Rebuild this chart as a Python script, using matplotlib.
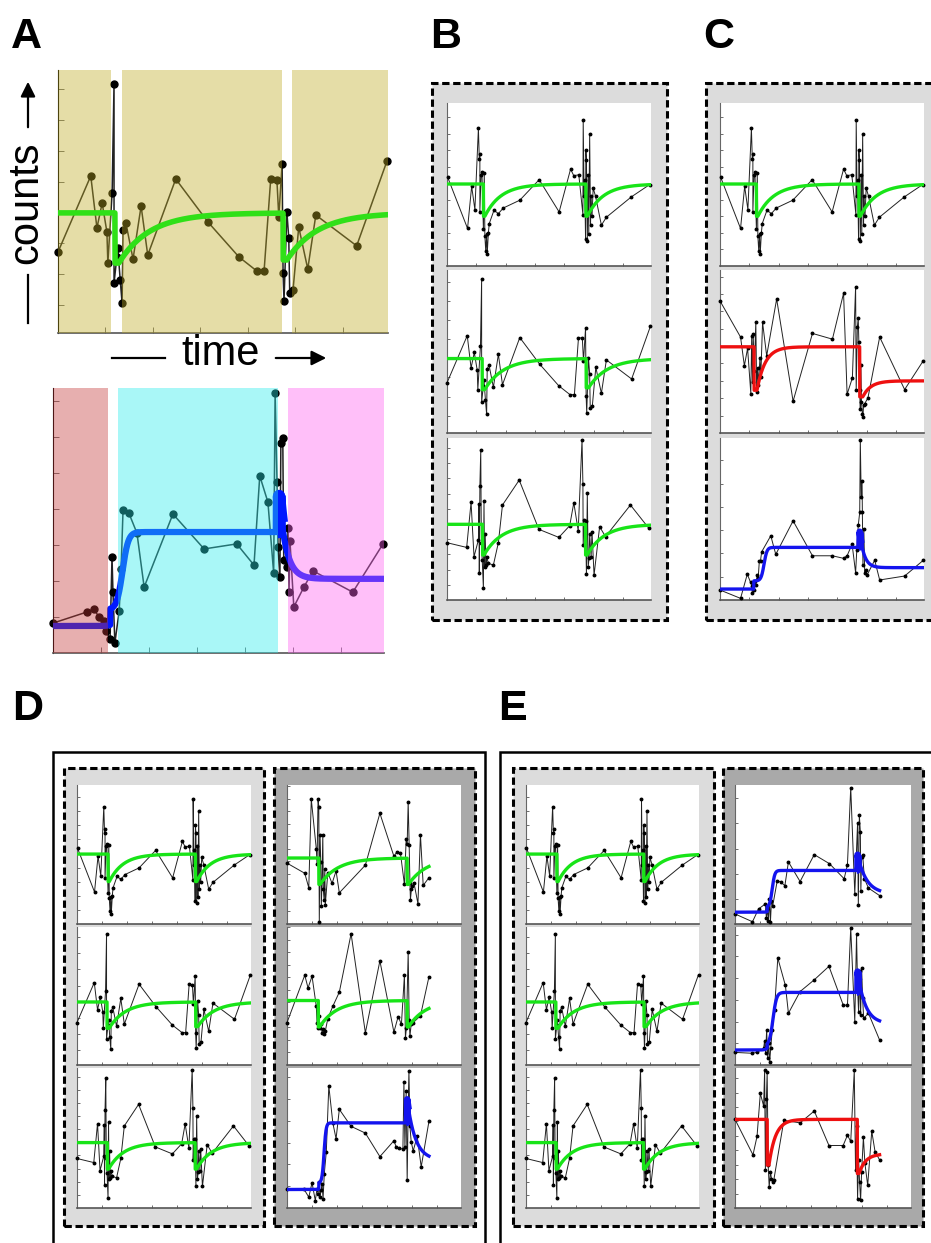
import numpy as np
import matplotlib
matplotlib.use('Agg')
import matplotlib.pyplot as plt
from matplotlib.patches import Rectangle, FancyArrowPatch
from matplotlib.lines import Line2D

plt.rcParams['font.family'] = ['Liberation Sans', 'DejaVu Sans']

# ---------------- data (time, counts) ----------------
trace_top = [(0.02,5.38),(0.70,2.27),(0.84,4.82),(0.95,3.41),(1.07,8.33),(1.10,6.47),(1.12,6.77),
             (1.12,3.27),(1.16,5.52),(1.19,5.66),(1.24,2.21),(1.27,5.62),(1.29,1.81),(1.32,0.90),
             (1.35,1.91),(1.37,0.74),(1.41,2.01),(1.44,2.57),(1.60,3.37),(1.75,3.17),(1.92,3.51),
             (2.48,3.98),(3.14,5.22),(3.82,3.27),(4.21,5.86),(4.32,5.46),(4.49,5.52),(4.63,3.11),
             (4.64,8.84),(4.67,4.22),(4.69,5.22),(4.72,1.61),(4.73,7.03),(4.75,6.43),(4.78,1.51),
             (4.81,5.52),(4.83,1.91),(4.86,7.99),(4.89,2.51),(4.91,4.22),(4.94,3.01),(4.98,4.72),
             (5.06,4.22),(5.26,2.47),(5.43,2.95),(6.28,4.18),(6.90,4.92)]
trace_mid = [(0.0,2.72),(0.69,5.19),(0.82,3.50),(0.93,4.31),(1.03,3.37),(1.05,2.36),(1.14,4.64),
             (1.18,8.18),(1.18,1.71),(1.24,2.56),(1.26,2.85),(1.31,1.81),(1.35,1.06),(1.37,3.44),
             (1.43,3.66),(1.58,2.49),(1.75,4.21),(1.89,2.62),(2.48,5.09),(3.16,3.69),(3.81,2.56),
             (4.19,2.10),(4.34,2.10),(4.48,5.09),(4.61,5.06),(4.65,3.86),(4.72,5.58),(4.74,2.04),
             (4.76,1.13),(4.82,4.02),(4.86,3.18),(4.88,1.39),(4.95,1.49),(5.07,3.53),(5.26,2.17),
             (5.43,3.92),(6.29,2.92),(6.93,5.68)]
trace_bot = [(0.0,3.77),(0.67,3.46),(0.82,6.43),(0.92,2.85),(1.07,3.95),(1.09,6.29),(1.10,1.75),
             (1.12,7.50),(1.15,9.87),(1.17,3.77),(1.20,2.63),(1.24,0.77),(1.26,6.54),(1.28,2.19),
             (1.30,4.34),(1.33,2.30),(1.35,2.85),(1.41,2.41),(1.58,2.30),(1.75,3.77),(1.89,6.25),
             (2.46,7.89),(3.13,4.65),(3.81,4.12),(4.18,4.89),(4.32,6.40),(4.47,4.56),(4.60,10.53),
             (4.63,7.63),(4.64,3.62),(4.67,5.26),(4.72,5.22),(4.75,1.71),(4.78,7.02),(4.81,2.19),
             (4.84,2.74),(4.86,4.34),(4.91,2.85),(4.94,4.50),(5.01,1.64),(5.20,4.82),(5.40,4.17),
             (6.25,6.25),(6.88,4.71)]
trace_red_c = [(0.0,7.60),(0.70,5.52),(0.83,3.87),(0.94,4.87),(1.05,2.27),(1.08,5.60),(1.11,2.94),
               (1.13,5.67),(1.17,3.56),(1.22,6.40),(1.25,2.37),(1.28,3.75),(1.31,2.79),(1.36,4.29),
               (1.39,3.23),(1.45,6.37),(1.59,4.44),(1.93,7.71),(2.49,1.83),(3.15,5.73),(3.83,5.40),
               (4.21,8.04),(4.33,2.23),(4.51,3.17),(4.62,8.42),(4.64,2.46),(4.68,6.12),(4.71,6.63),
               (4.73,5.25),(4.76,2.46),(4.78,1.37),(4.80,3.90),(4.82,1.79),(4.85,1.12),(4.87,0.92),
               (4.89,1.60),(4.93,1.69),(5.04,2.02),(5.44,5.52),(6.29,2.50),(6.93,4.17)]
trace_blue_c = [(0.0,0.43),(0.70,0.07),(0.93,1.11),(1.04,0.76),(1.08,0.61),(1.10,0.31),(1.13,0.71),
                (1.17,0.43),(1.19,0.81),(1.22,0.64),(1.27,1.07),(1.30,0.93),(1.34,1.67),(1.38,1.69),
                (1.42,2.07),(1.73,2.76),(1.90,1.96),(2.49,3.40),(3.15,1.90),(3.83,1.90),(4.21,1.79),
                (4.33,1.90),(4.50,2.40),(4.62,1.17),(4.66,2.14),(4.71,3.21),(4.76,3.76),(4.78,6.89),
                (4.81,4.43),(4.84,5.10),(4.85,3.79),(4.87,1.50),(4.90,3.07),(4.93,1.14),(4.96,1.29),
                (5.01,1.07),(5.27,1.71),(5.44,0.86),(6.29,1.03),(6.93,1.71)]
trace_a_bottom = [(0.0,0.83),(0.71,1.14),(0.85,1.22),(0.96,1.00),(1.06,0.89),(1.10,0.61),(1.19,0.39),
                  (1.23,2.67),(1.25,1.69),(1.29,0.28),(1.38,1.17),(1.42,2.33),(1.46,3.97),(1.58,3.89),
                  (1.75,3.33),(1.90,1.83),(2.50,3.86),(3.15,2.89),(3.83,3.03),(4.19,2.44),(4.31,4.92),
                  (4.48,4.19),(4.60,2.22),(4.63,7.22),(4.67,4.75),(4.69,2.94),(4.73,2.11),(4.75,5.83),
                  (4.79,5.97),(4.81,2.58),(4.88,2.39),(4.90,3.47),(4.92,1.69),(4.94,3.11),(5.02,1.28),
                  (5.23,1.83),(5.42,2.28),(6.25,1.69),(6.88,3.03)]
trace_d_top = [(0.0,4.86),(0.71,4.05),(0.87,2.89),(0.97,9.97),(1.17,6.00),(1.20,4.78),(1.24,9.97),
               (1.27,9.38),(1.29,0.19),(1.32,7.08),(1.35,4.92),(1.37,1.41),(1.40,3.43),(1.43,7.14),
               (1.45,2.76),(1.48,1.95),(1.51,4.38),(1.53,1.54),(1.63,4.11),(1.80,3.24),(1.96,4.24),
               (2.09,2.49),(3.13,4.70),(3.71,8.84),(4.27,5.41),(4.40,5.78),(4.53,5.68),(4.69,3.16),
               (4.76,6.81),(4.80,6.41),(4.84,9.73),(4.88,6.27),(4.91,3.30),(4.93,1.95),(4.97,2.76),
               (5.01,3.03),(5.07,3.30),(5.23,1.62),(5.33,7.14),(5.44,3.08),(5.67,3.70)]
trace_d_mid = [(0.0,3.38),(0.71,7.16),(0.84,6.14),(1.00,7.08),(1.17,4.68),(1.20,3.38),(1.24,2.97),
               (1.28,3.92),(1.32,2.92),(1.36,3.24),(1.40,2.57),(1.44,2.89),(1.48,2.49),(1.53,2.70),
               (1.63,3.70),(1.83,4.68),(2.09,5.81),(2.56,10.46),(3.13,2.57),(3.71,8.30),(4.27,2.62),
               (4.44,3.86),(4.57,3.24),(4.69,7.16),(4.73,2.16),(4.77,2.97),(4.84,9.00),(4.88,3.59),
               (4.91,2.30),(4.96,3.24),(5.04,3.38),(5.33,3.92),(5.67,7.03)]
trace_d_bot = [(0.0,0.85),(0.67,0.88),(0.87,0.50),(1.00,1.16),(1.13,0.34),(1.20,0.88),(1.24,0.65),
               (1.28,1.19),(1.32,0.50),(1.36,0.81),(1.40,1.12),(1.44,0.42),(1.49,1.58),(1.57,2.59),
               (1.67,5.61),(1.83,3.91),(1.96,3.18),(2.09,4.53),(2.56,3.75),(3.13,3.44),(3.71,2.36),
               (4.27,3.09),(4.37,2.78),(4.49,2.74),(4.63,2.71),(4.67,5.77),(4.71,2.82),(4.76,5.38),
               (4.80,1.27),(4.84,4.53),(4.87,6.31),(4.91,3.75),(4.96,3.05),(5.04,2.62),(5.20,3.29),
               (5.36,1.89),(5.67,3.98)]
trace_e_top = [(0.0,0.40),(0.69,0.09),(0.93,0.60),(1.20,0.80),(1.24,0.23),(1.28,0.60),(1.32,0.13),
               (1.36,1.00),(1.40,0.09),(1.44,0.93),(1.49,0.73),(1.67,1.73),(1.80,1.67),(1.97,1.53),
               (2.11,2.47),(2.57,1.69),(3.13,2.76),(3.73,2.40),(4.31,1.80),(4.44,2.36),(4.57,5.43),
               (4.73,1.20),(4.77,2.23),(4.84,4.00),(4.87,0.76),(4.91,4.33),(4.95,3.67),(4.97,1.33),
               (5.00,2.67),(5.04,2.76),(5.11,1.80),(5.27,1.43),(5.71,1.13)]
trace_e_mid = [(0.0,0.58),(0.67,0.54),(0.87,0.58),(1.13,0.77),(1.17,1.11),(1.21,0.54),(1.25,1.62),
               (1.29,0.31),(1.33,1.00),(1.37,0.15),(1.41,0.77),(1.47,1.62),(1.56,2.54),(1.69,4.92),
               (1.99,3.66),(2.11,2.38),(2.57,3.38),(3.13,3.92),(3.71,4.54),(4.27,2.77),(4.44,2.74),
               (4.57,6.31),(4.73,2.00),(4.80,6.03),(4.84,3.54),(4.88,2.46),(4.92,4.31),(4.96,2.28),
               (5.00,4.46),(5.04,3.08),(5.08,2.15),(5.27,2.38),(5.71,1.15)]
trace_e_bot = [(0.0,6.14),(0.71,3.68),(0.87,4.96),(1.00,7.94),(1.13,7.07),(1.17,9.53),(1.20,2.62),
               (1.24,7.54),(1.27,9.41),(1.31,2.97),(1.35,1.45),(1.40,2.51),(1.44,2.04),(1.49,1.80),
               (1.53,1.92),(1.93,6.07),(2.57,5.90),(3.13,6.72),(3.71,4.33),(4.27,4.33),(4.44,5.04),
               (4.57,4.61),(4.71,9.53),(4.76,2.62),(4.80,5.67),(4.84,0.63),(4.88,3.33),(4.92,1.80),
               (4.96,0.52),(5.00,2.51),(5.07,4.89),(5.13,3.09),(5.24,1.57),(5.40,5.32),(5.53,3.91),
               (5.71,3.33)]

# fitted model parameters
# dip: base, t1, low1, t2, low2, base2, tau, delay
fit_top = [4.96, 1.24, 3.01, 4.73, 3.01, 4.96, 0.55, 0.05]
fit_mid = [3.99, 1.20, 2.36, 4.74, 2.46, 3.99, 0.65, 0.08]
fit_bot = [4.98, 1.21, 2.96, 4.72, 2.96, 4.98, 0.60, 0.05]
fit_red_c = [4.96, 1.16, 2.46, 4.76, 2.08, 3.00, 0.28, 0.10]
fit_d_top = [5.27, 1.27, 3.16, 4.80, 3.16, 5.27, 0.72, 0.05]
fit_d_mid = [5.14, 1.25, 3.03, 4.80, 3.03, 5.14, 0.68, 0.05]
fit_e_bot = [6.14, 1.27, 2.97, 4.83, 2.39, 3.75, 0.26, 0.07]
# rise: b0, t1, bump, tm, s, plateau, t2, peak, b2, tau2
fit_blue_c = [0.47, 1.15, 0.35, 1.50, 0.05, 2.26, 4.76, 2.93, 1.39, 0.15]
fit_a_bottom = [0.75, 1.19, 0.45, 1.45, 0.06, 3.36, 4.71, 4.39, 2.06, 0.15]
fit_d_bot = [0.85, 1.27, 0.30, 1.48, 0.04, 3.91, 4.80, 4.99, 2.20, 0.32]
fit_e_top = [0.47, 1.27, 0.20, 1.47, 0.05, 2.13, 4.84, 2.76, 1.20, 0.35]
fit_e_mid = [0.69, 1.27, 0.20, 1.50, 0.07, 3.34, 4.84, 4.31, 1.90, 0.30]

# shaded epochs in panel A
a_top_epochs = [(0.0, 1.12), (1.35, 4.71), (4.92, 6.95)]
a_bot_epochs = [(0.0, 1.14), (1.36, 4.69), (4.89, 6.90)]

# ---------------- helpers ----------------
W, H = 931, 1243
fig = plt.figure(figsize=(W / 100, H / 100), dpi=100)


def frac_rect(x0, y0, x1, y1):
    return [x0 / W, 1 - y1 / H, (x1 - x0) / W, (y1 - y0) / H]


def dip_curve(t, p):
    base, t1, low1, t2, low2, base2, tau, delay = p
    y = np.full_like(t, base)
    m1 = (t >= t1) & (t < t2)
    y[m1] = base - (base - low1) * np.exp(-np.clip(t[m1] - t1 - delay, 0, None) / tau)
    m2 = t >= t2
    y[m2] = base2 - (base2 - low2) * np.exp(-np.clip(t[m2] - t2 - delay, 0, None) / tau)
    return y


def rise_curve(t, p):
    b0, t1, bump, tm, s, plateau, t2, peak, b2, tau2 = p
    y = b0 + bump * (t >= t1) + (plateau - b0 - bump) / (1 + np.exp(-(t - tm) / s))
    m = t >= t2
    y[m] = b2 + (peak - b2) * np.exp(-(t[m] - t2) / tau2)
    return y


def style_axes(ax, ylim, xmax=6.95, tick_len=2.5, spine_lw=1.0):
    ax.set_xlim(0, xmax)
    ax.set_ylim(*ylim)
    for s in ['top', 'right']:
        ax.spines[s].set_visible(False)
    ax.spines['left'].set_color('#666666')
    ax.spines['left'].set_linewidth(spine_lw * 0.8)
    ax.spines['bottom'].set_color('#555555')
    ax.spines['bottom'].set_linewidth(spine_lw * 1.2)
    ax.set_xticks(range(1, 7))
    ax.set_yticks(np.arange(1, int(ylim[1]) + 1))
    ax.tick_params(direction='in', length=tick_len, width=0.6, colors='#555555',
                   labelbottom=False, labelleft=False)


def draw_trace(ax, pts, kind, params, color, t_end, lw_data, ms, lw_fit, fit_z=4):
    t = [p[0] for p in pts]
    y = [p[1] for p in pts]
    ax.plot(t, y, '-', color='#222222', lw=lw_data, marker='o', ms=ms,
            mfc='black', mec='black', zorder=3, clip_on=False)
    tt = np.linspace(0, t_end, 3000)
    yy = dip_curve(tt, params) if kind == 'dip' else rise_curve(tt, params)
    ax.plot(tt, yy, color=color, lw=lw_fit, zorder=fit_z, solid_joinstyle='round')
    if kind == 'rise':
        # the dense burst of samples at the second event makes the fit look thicker there
        t2 = params[6]
        m = (tt >= t2 - 0.03) & (tt <= t2 + 0.06)
        ax.plot(tt[m], yy[m], color=color, lw=lw_fit * 2.0, zorder=fit_z,
                solid_capstyle='butt')
        ax.plot([t2, t2], [params[5], params[7]], color=color, lw=lw_fit * 2.0,
                zorder=fit_z, solid_capstyle='butt')


def small_panel(px, pts, kind, params, color, ylim, t_end=6.95):
    ax = fig.add_axes(frac_rect(*px))
    ax.set_facecolor('white')
    draw_trace(ax, pts, kind, params, color, t_end, 0.7, 1.8, 2.4)
    style_axes(ax, ylim)
    return ax


def box(x0, y0, x1, y1, fc, ls, lw, z):
    fig.add_artist(Rectangle((x0 / W, 1 - y1 / H), (x1 - x0) / W, (y1 - y0) / H,
                             transform=fig.transFigure, facecolor=fc, edgecolor='black',
                             linestyle=ls, lw=lw, zorder=z, clip_on=False))


GREEN, RED, BLUE = '#18e418', '#ee1010', '#1414ee'
DASH = (0, (2.4, 1.2))
LIGHT, DARK = '#dcdcdc', '#a9a9a9'

# ---------------- panel A ----------------
axA1 = fig.add_axes(frac_rect(58, 70, 388, 333))
draw_trace(axA1, trace_mid, 'dip', fit_mid, '#30e018', 6.95, 1.1, 5, 4.0, fit_z=6)
style_axes(axA1, (0.09, 8.63), tick_len=4)
axA1.spines['left'].set_color('black')
for a, b in a_top_epochs:
    axA1.axvspan(a, b, color='#c0ac25', alpha=0.4, lw=0, zorder=5)

axA2 = fig.add_axes(frac_rect(53, 388, 384, 653))
draw_trace(axA2, trace_a_bottom, 'rise', fit_a_bottom, '#0018ff', 6.9, 1.1, 5, 4.5)
style_axes(axA2, (0, 7.36), xmax=6.9, tick_len=4)
axA2.spines['left'].set_color('black')
for (a, b), c in zip(a_bot_epochs, ['#c53939', '#2aeded', '#ff61f2']):
    axA2.axvspan(a, b, color=c, alpha=0.4, lw=0, zorder=5)

fig.text(221 / W, 1 - 354 / H, 'time', fontsize=30, ha='center', va='center')
fig.add_artist(Line2D([112 / W, 165 / W], [1 - 358 / H] * 2, transform=fig.transFigure,
                      color='black', lw=1.6))
fig.add_artist(FancyArrowPatch((273 / W, 1 - 358 / H), (329 / W, 1 - 358 / H),
                               transform=fig.transFigure, arrowstyle='-|>',
                               mutation_scale=22, lw=1.6, color='black'))
fig.text(26 / W, 1 - 203 / H, 'counts', fontsize=30, ha='center', va='center', rotation=90)
fig.add_artist(Line2D([28 / W] * 2, [1 - 323 / H, 1 - 275 / H], transform=fig.transFigure,
                      color='black', lw=1.6))
fig.add_artist(FancyArrowPatch((28 / W, 1 - 130 / H), (28 / W, 1 - 79 / H),
                               transform=fig.transFigure, arrowstyle='-|>',
                               mutation_scale=22, lw=1.6, color='black'))

# ---------------- panel labels ----------------
for lab, x, y in [('A', 11, 48), ('B', 430, 48), ('C', 703, 48), ('D', 12, 720), ('E', 498, 720)]:
    fig.text(x / W, 1 - y / H, lab, fontsize=31, fontweight='bold', ha='left', va='baseline')

# ---------------- boxes ----------------
box(432, 83, 667, 620, LIGHT, DASH, 2.2, -2)
box(706, 83, 941, 620, LIGHT, DASH, 2.2, -2)
box(53, 752, 485, 1270, 'white', '-', 1.8, -3)
box(500, 752, 970, 1270, 'white', '-', 1.8, -3)
box(64, 768, 264, 1226, LIGHT, DASH, 2.2, -2)
box(274, 768, 475, 1226, DARK, DASH, 2.2, -2)
box(513, 768, 714, 1226, LIGHT, DASH, 2.2, -2)
box(723, 768, 923, 1226, DARK, DASH, 2.2, -2)

# ---------------- panels B and C ----------------
rows_bc = [(103, 266), (270, 433), (438, 600)]
left_set = [(trace_top, 'dip', fit_top, GREEN, (0, 9.86)),
            (trace_mid, 'dip', fit_mid, GREEN, (0.09, 8.63)),
            (trace_bot, 'dip', fit_bot, GREEN, (0, 10.66))]
for (y0, y1), (pts, k, p, c, yl) in zip(rows_bc, left_set):
    small_panel((447, y0, 651, y1), pts, k, p, c, yl)

c_set = [(trace_top, 'dip', fit_top, GREEN, (0, 9.86)),
         (trace_red_c, 'dip', fit_red_c, RED, (0, 9.38)),
         (trace_blue_c, 'rise', fit_blue_c, BLUE, (0, 6.96))]
for (y0, y1), (pts, k, p, c, yl) in zip(rows_bc, c_set):
    small_panel((720, y0, 924, y1), pts, k, p, c, yl)

# ---------------- panels D and E ----------------
rows_de = [(785, 924), (927, 1065), (1068, 1208)]
for (y0, y1), (pts, k, p, c, yl) in zip(rows_de, left_set):
    small_panel((77, y0, 251, y1), pts, k, p, c, yl)
    small_panel((526, y0, 699, y1), pts, k, p, c, yl)

d_right = [(trace_d_top, 'dip', fit_d_top, GREEN, (0, 11.1)),
           (trace_d_mid, 'dip', fit_d_mid, GREEN, (0, 11.0)),
           (trace_d_bot, 'rise', fit_d_bot, BLUE, (0, 6.43))]
for (y0, y1), (pts, k, p, c, yl) in zip(rows_de, d_right):
    small_panel((287, y0, 461, y1), pts, k, p, c, yl, t_end=pts[-1][0])

e_right = [(trace_e_top, 'rise', fit_e_top, BLUE, (0, 5.53)),
           (trace_e_mid, 'rise', fit_e_mid, BLUE, (0, 6.35)),
           (trace_e_bot, 'dip', fit_e_bot, RED, (0, 9.7))]
for (y0, y1), (pts, k, p, c, yl) in zip(rows_de, e_right):
    small_panel((735, y0, 911, y1), pts, k, p, c, yl, t_end=pts[-1][0])

fig.savefig('out.png', dpi=100, facecolor='white')
